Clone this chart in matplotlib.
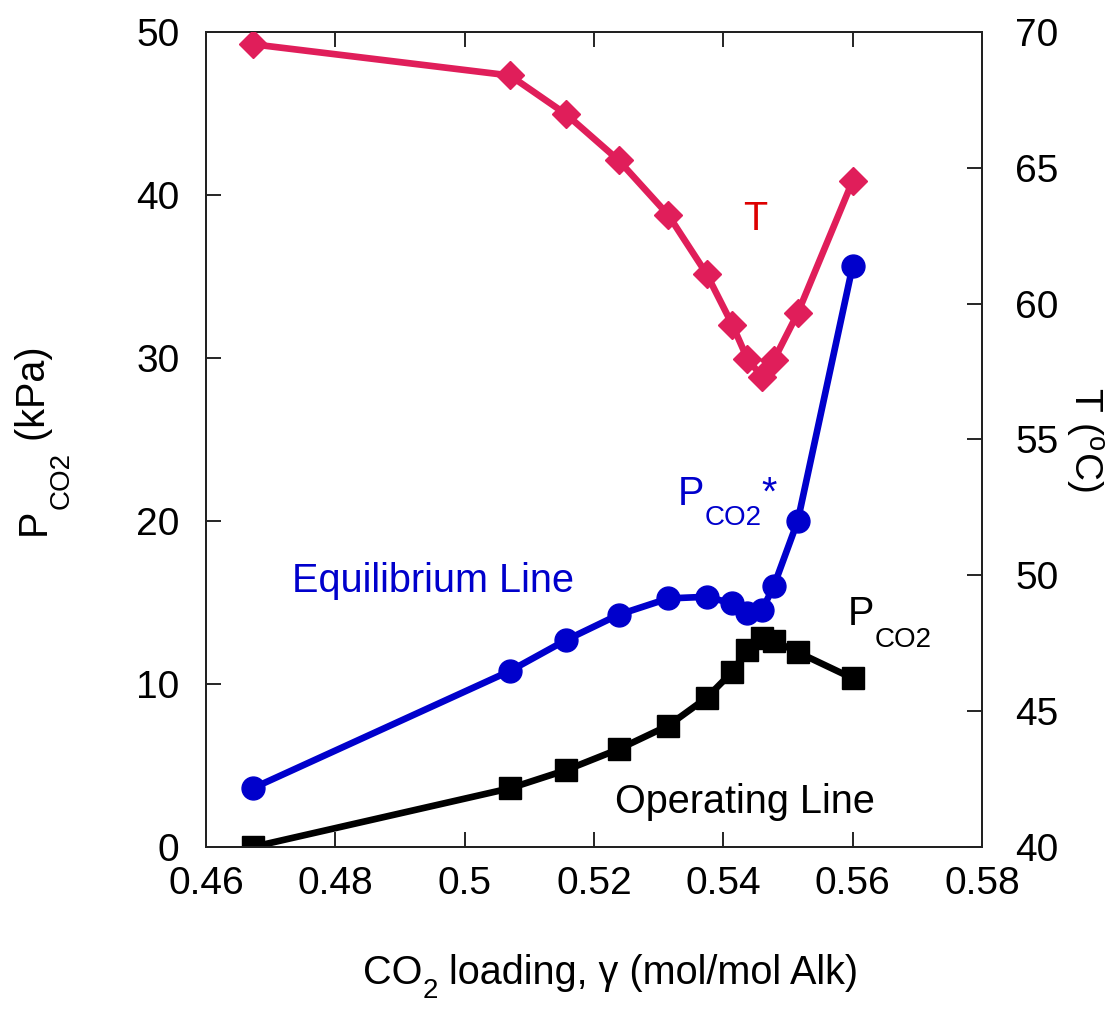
import matplotlib
matplotlib.use("Agg")
import matplotlib.pyplot as plt

plt.rcParams['font.family'] = ['Liberation Sans', 'DejaVu Sans']
plt.rcParams['mathtext.fontset'] = 'custom'
plt.rcParams['mathtext.rm'] = 'Liberation Sans'
plt.rcParams['mathtext.it'] = 'Liberation Sans:italic'
plt.rcParams['mathtext.bf'] = 'Liberation Sans:bold'

# CO2 loading along the column (mol CO2 / mol alkalinity)
loading = [0.4672, 0.5070, 0.5157, 0.5238, 0.5315, 0.5374, 0.5414,
           0.5437, 0.5460, 0.5478, 0.5515, 0.5600]
# equilibrium partial pressure P*CO2 (kPa)
p_eq = [3.6, 10.8, 12.7, 14.25, 15.25, 15.35, 14.95,
        14.35, 14.55, 16.0, 20.0, 35.65]
# operating partial pressure PCO2 (kPa)
p_op = [0.0, 3.6, 4.72, 6.0, 7.45, 9.15, 10.75,
        12.1, 12.8, 12.65, 11.95, 10.35]
# temperature profile (deg C)
temp = [69.55, 68.4, 66.97, 65.28, 63.26, 61.1, 59.22,
        57.98, 57.3, 57.92, 59.65, 64.52]

x_ticks = [0.46, 0.48, 0.5, 0.52, 0.54, 0.56, 0.58]
x_tick_labels = ['0.46', '0.48', '0.5', '0.52', '0.54', '0.56', '0.58']
p_ticks = [0, 10, 20, 30, 40, 50]
t_ticks = [40, 45, 50, 55, 60, 65, 70]

BLUE = '#0000CC'
PINK = '#E01E5A'
RED = '#DD0000'
FS = 28.5
SUB = 20

fig = plt.figure(figsize=(11.19, 10.09), dpi=100)
ax = fig.add_axes([206 / 1119, 162 / 1009, 776 / 1119, 815 / 1009])
ax2 = ax.twinx()


def rich_text(xy, xycoords, pieces, rotation=0):
    """Lay out text pieces (text, size, drop_pt, color) one after another
    along the baseline, so subscripts can sit lower and be sized freely."""
    renderer = fig.canvas.get_renderer()
    adv = 0.0
    for s, size, drop, color in pieces:
        off = (adv, -drop) if rotation == 0 else (drop, adv)
        t = ax.annotate(s, xy=xy, xycoords=xycoords, xytext=off,
                        textcoords='offset points', fontsize=size,
                        color=color, rotation=rotation, ha='left',
                        va='baseline', rotation_mode='anchor',
                        annotation_clip=False)
        bb = t.get_window_extent(renderer)
        adv += (bb.width if rotation == 0 else bb.height) * 72 / fig.dpi


ax.plot(loading, p_eq, '-o', color=BLUE, lw=4.8, ms=16.5, zorder=3)
ax.plot(loading, p_op, '-s', color='black', lw=4.8, ms=16.5, zorder=4)
ax2.plot(loading, temp, '-D', color=PINK, lw=4.8, ms=14, zorder=3)

ax.set_xlim(0.46, 0.58)
ax.set_ylim(0, 50)
ax2.set_ylim(40, 70)
ax.set_xticks(x_ticks)
ax.set_xticklabels(x_tick_labels)
ax.set_yticks(p_ticks)
ax2.set_yticks(t_ticks)

ax.tick_params(axis='x', direction='in', length=11, width=1.2, top=True,
               labelsize=28, pad=14)
ax.tick_params(axis='y', direction='in', length=11, width=1.2, right=False,
               labelsize=28, pad=19)
ax2.tick_params(axis='y', direction='in', length=11, width=1.2,
                labelsize=28, pad=24)
for a in (ax, ax2):
    for sp in a.spines.values():
        sp.set_linewidth(1.4)
        sp.set_color('#222222')

ax2.set_ylabel(r'T ($\mathrm{^{o}}$C)', fontsize=28, rotation=270, labelpad=33)

# left axis title, reading upward
rich_text((45, 474), 'figure pixels',
          [('P', FS, 0, 'black'), ('CO2', SUB, 17, 'black'),
           (' (kPa)', FS, 0, 'black')], rotation=90)

# x axis title
rich_text((363, 25), 'figure pixels',
          [('CO', FS, 0, 'black'), ('2', SUB, 10, 'black'),
           (' loading, γ (mol/mol Alk)', FS, 0, 'black')])

ax.text(0.4951, 16.3, 'Equilibrium Line', color=BLUE, fontsize=FS,
        ha='center', va='center')
ax.text(0.5433, 2.76, 'Operating Line', color='black', fontsize=FS,
        ha='center', va='center')
ax.text(0.5449, 38.5, 'T', color=RED, fontsize=FS, ha='center', va='center')

rich_text((0.5330, 20.98), 'data',
          [('P', FS, 0, BLUE), ('CO2', SUB, 14.4, BLUE), ('*', FS, 0, BLUE)])
rich_text((0.5593, 13.62), 'data',
          [('P', FS, 0, 'black'), ('CO2', SUB, 15.8, 'black')])

fig.savefig('out.png', dpi=100)
